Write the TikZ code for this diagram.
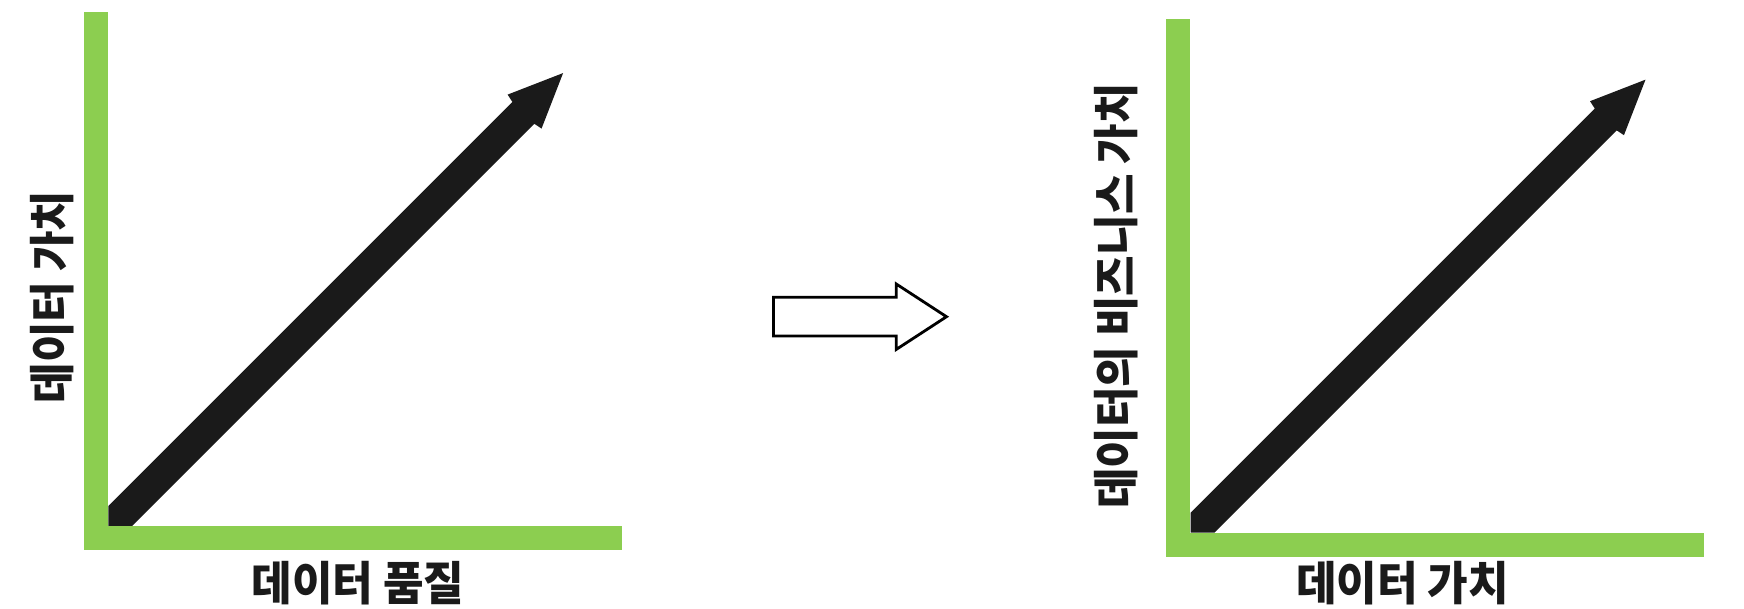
\documentclass[tikz,border=0pt]{standalone}
\usepackage{fontspec}
\newfontfamily\kr{Noto Sans CJK KR}
\definecolor{axisgreen}{RGB}{140,206,80}
\definecolor{arrowblack}{RGB}{26,26,26}
\newcommand{\narrowtext}[1]{\scalebox{0.95}[1]{#1}}
\begin{document}
\begin{tikzpicture}[x=0.01cm,y=-0.01cm,
  axisbar/.style={fill=axisgreen,draw=none},
  bigarrow/.style={fill=arrowblack,draw=none},
  axislabel/.style={font=\kr\bfseries\fontsize{13.2pt}{14pt}\selectfont,text=arrowblack,inner sep=0pt},
  hollowarrow/.style={draw=black,line width=0.8pt,fill=white,line join=miter}]
\useasboundingbox (0,0) rectangle (1744,608);
\fill[white] (0,0) rectangle (1744,608);
% left panel
\begin{scope}
  \fill[bigarrow] (108.3,506) -- (108.3,526) -- (132,526) -- (534.25,123.75) -- (541.55,128.55)
     -- (563.1,73.05) -- (507.6,94.6) -- (512.4,101.9) -- cycle;
  \fill[axisbar] (84,12) rectangle (108,550);
  \fill[axisbar] (84,526) rectangle (622,550);
\end{scope}
\node[axislabel] (xl1) at (358,583) {\narrowtext{데이터 품질}};
\node[axislabel,rotate=90] (yl1) at (52,297) {\narrowtext{데이터 가치}};
% middle arrow
\draw[hollowarrow] (773.5,297.3) -- (896.3,297.3) -- (896.3,284) -- (946.5,316.7) -- (896.3,349.4)
   -- (896.3,336) -- (773.5,336) -- cycle;
% right panel
\begin{scope}[shift={(1082.4,6.6)}]
  \fill[bigarrow] (108.3,506) -- (108.3,526) -- (132,526) -- (534.25,123.75) -- (541.55,128.55)
     -- (563.1,73.05) -- (507.6,94.6) -- (512.4,101.9) -- cycle;
  \fill[axisbar] (84,12) rectangle (108,550);
  \fill[axisbar] (84,526) rectangle (622,550);
\end{scope}
\node[axislabel] (xl2) at (1402.5,583) {\narrowtext{데이터 가치}};
\node[axislabel,rotate=90] (yl2) at (1116,296) {\narrowtext{데이터의 비즈니스 가치}};
\end{tikzpicture}
\end{document}
